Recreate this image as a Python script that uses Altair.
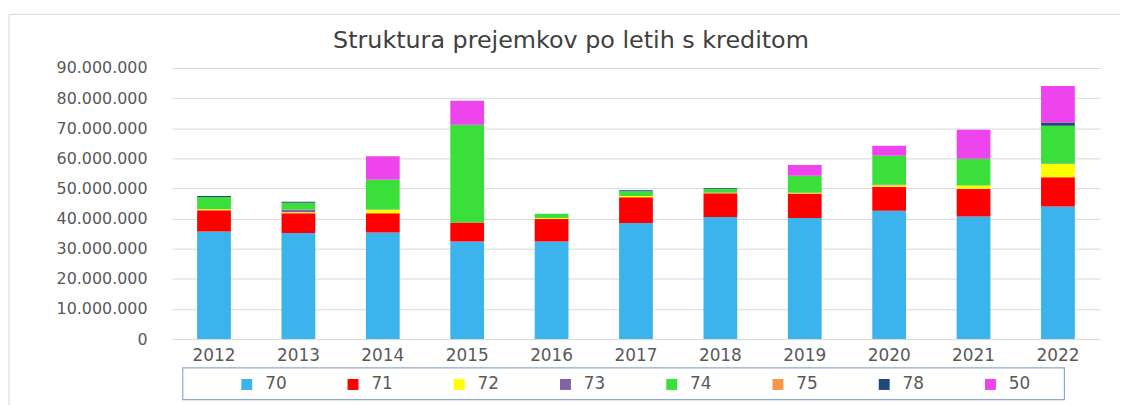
import altair as alt
import pandas as pd

years = ["2012", "2013", "2014", "2015", "2016", "2017", "2018", "2019", "2020", "2021", "2022"]
series = ["70", "71", "72", "73", "74", "75", "78", "50"]
colors = ["#3BB3EC", "#FF0000", "#FFFF00", "#8064A2", "#3ADF3A", "#F79646", "#1F497D", "#EE44EE"]
title_text = "Struktura prejemkov po letih s kreditom"

s70 = [35700000, 35200000, 35400000, 32400000, 32400000, 38500000, 40500000, 40200000, 42600000, 40700000, 44000000]
s71 = [7100000, 6600000, 6400000, 6300000, 7500000, 8600000, 7900000, 8100000, 7900000, 9100000, 9700000]
s72 = [300000, 300000, 1100000, 0, 300000, 400000, 200000, 300000, 550000, 1200000, 4400000]
s73 = [0, 900000, 100000, 0, 0, 0, 0, 0, 300000, 0, 200000]
s74 = [4100000, 2300000, 9900000, 32500000, 1400000, 1600000, 1300000, 5600000, 9500000, 8900000, 12500000]
s75 = [0, 0, 0, 0, 0, 0, 0, 0, 0, 0, 0]
s78 = [300000, 300000, 100000, 0, 0, 300000, 300000, 0, 0, 0, 1100000]
s50 = [0, 0, 7700000, 7900000, 0, 0, 0, 3600000, 3300000, 9600000, 12100000]

y_ticks = [0, 10000000, 20000000, 30000000, 40000000, 50000000, 60000000, 70000000, 80000000, 90000000]

values = [s70, s71, s72, s73, s74, s75, s78, s50]
rows = []
for i, (name, vals) in enumerate(zip(series, values)):
    for y, v in zip(years, vals):
        rows.append({"leto": y, "serija": name, "idx": i, "vrednost": v})
df = pd.DataFrame(rows)

FONT = "DejaVu Sans"

bars = alt.Chart(df).mark_bar().encode(
    x=alt.X("leto:N", sort=years, title=None,
            scale=alt.Scale(paddingInner=0.6, paddingOuter=0.3),
            axis=alt.Axis(labelAngle=0, ticks=False, domain=False, grid=False,
                          labelFont=FONT, labelFontSize=17, labelColor="#595959",
                          labelPadding=9)),
    y=alt.Y("vrednost:Q", stack="zero", title=None,
            scale=alt.Scale(domain=[0, 90000000], nice=False),
            axis=alt.Axis(values=y_ticks, format=",d", ticks=False, domain=False,
                          grid=True, gridColor="#D9D9D9", gridWidth=1,
                          labelFont=FONT, labelFontSize=16, labelColor="#595959",
                          labelPadding=25)),
    color=alt.Color("serija:N", sort=series,
                    scale=alt.Scale(domain=series, range=colors),
                    legend=alt.Legend(title=None, orient="none", legendX=67, legendY=310,
                                      direction="horizontal", columns=8,
                                      symbolType="square", symbolSize=121,
                                      symbolStrokeWidth=0, labelFont=FONT,
                                      labelFontSize=17, labelColor="#595959",
                                      columnPadding=58, labelOffset=10, padding=0)),
    order=alt.Order("idx:Q", sort="ascending"),
)

dummy = pd.DataFrame({"a": [0]})
legend_box = alt.Chart(dummy).mark_rect(fill="transparent", stroke="#8EA9D4", strokeWidth=1.2).encode(
    x=alt.value(11), x2=alt.value(899), y=alt.value(302), y2=alt.value(334)
)
outer_box = alt.Chart(dummy).mark_rect(fill="transparent", stroke="#D9D9D9", strokeWidth=1).encode(
    x=alt.value(-164), x2=alt.value(1100), y=alt.value(-54), y2=alt.value(400)
)
title = alt.Chart(pd.DataFrame({"t": [title_text]})).mark_text(
    font=FONT, fontSize=24, color="#404040", align="center", baseline="alphabetic"
).encode(text="t:N", x=alt.value(402), y=alt.value(-20))

chart = alt.layer(outer_box, bars, legend_box, title).properties(
    width=935, height=273,
    padding={"left": 165, "top": 59, "right": 20, "bottom": 70},
    autosize=alt.AutoSizeParams(type="none"),
).configure(
    locale={"number": {"decimal": ",", "thousands": ".", "grouping": [3], "currency": ["", " €"]}}
).configure_view(stroke=None)

chart.save("out.html", embed_options={"renderer": "svg", "actions": False})
